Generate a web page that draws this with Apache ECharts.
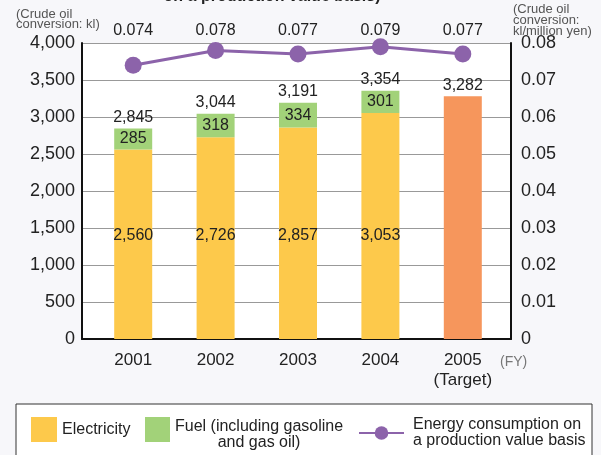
<!DOCTYPE html>
<html>
<head>
<meta charset="utf-8">
<script src="https://cdn.jsdelivr.net/npm/echarts@6/dist/echarts.min.js"></script>
<style>
  html, body { margin: 0; padding: 0; background: #f7f7fa; }
  #chart { width: 601px; height: 455px; }
</style>
</head>
<body>
<div id="chart"></div>
<script>
// Fiscal years (the last one is the target year)
const years = ['2001', '2002', '2003', '2004', '2005\n(Target)'];
// Energy consumption, crude oil conversion (kl)
const electricity = [2560, 2726, 2857, 3053, '-'];
const fuel = [285, 318, 334, 301, '-'];
const target = ['-', '-', '-', '-', 3282];
// Energy consumption on a production value basis (kl / million yen)
const intensity = [0.074, 0.078, 0.077, 0.079, 0.077];

// Stack totals shown above each bar
const totals = years.map((_, i) =>
  target[i] !== '-' ? target[i] : electricity[i] + fuel[i]);

const FONT = '"Liberation Sans", Arial, Helvetica, sans-serif';
const TXT = '#222';
const comma = v => Number(v).toLocaleString('en-US');

const frame = { left: 82, right: 90, top: 43, bottom: 116 };
const plot = { left: 92, right: 97, top: 43, bottom: 116 };

const chart = echarts.init(document.getElementById('chart'), null, { renderer: 'canvas' });

chart.setOption({
  backgroundColor: '#f7f7fa',
  textStyle: { fontFamily: FONT },
  animation: false,
  grid: [
    Object.assign({ show: true, backgroundColor: '#fff', borderWidth: 0 }, frame),
    Object.assign({}, plot)
  ],
  xAxis: [
    { // frame baseline
      gridIndex: 0, type: 'value', min: 0, max: 1,
      axisLine: { show: true, onZero: false, lineStyle: { color: '#111', width: 2 } },
      axisTick: { show: false }, axisLabel: { show: false }, splitLine: { show: false }
    },
    { // fiscal years
      gridIndex: 1, type: 'category', data: years,
      axisLine: { show: false }, axisTick: { show: false }, splitLine: { show: false },
      axisLabel: { fontSize: 17, color: TXT, margin: 11, lineHeight: 20, fontFamily: FONT }
    },
    { // intensity values above the plot
      gridIndex: 1, type: 'category', data: years, position: 'top',
      axisLine: { show: false }, axisTick: { show: false }, splitLine: { show: false },
      axisLabel: {
        fontSize: 16, color: TXT, margin: 4, fontFamily: FONT,
        formatter: (v, i) => intensity[i].toFixed(3)
      }
    }
  ],
  yAxis: [
    {
      gridIndex: 0, type: 'value', min: 0, max: 4000, interval: 500,
      axisLine: { show: true, lineStyle: { color: '#111', width: 2 } },
      axisTick: { show: false },
      axisLabel: { fontSize: 18, color: TXT, margin: 7, fontFamily: FONT, formatter: comma },
      splitLine: { show: true, lineStyle: { color: '#999', width: 1 } }
    },
    {
      gridIndex: 0, type: 'value', min: 0, max: 0.08, interval: 0.01, position: 'right',
      axisLine: { show: true, lineStyle: { color: '#111', width: 2 } },
      axisTick: { show: false },
      axisLabel: {
        fontSize: 18, color: TXT, margin: 10, fontFamily: FONT,
        formatter: v => (v === 0 ? '0' : v.toFixed(2))
      },
      splitLine: { show: false }
    },
    { gridIndex: 1, type: 'value', min: 0, max: 4000, show: false },
    { gridIndex: 1, type: 'value', min: 0, max: 0.08, show: false, position: 'right' }
  ],
  legend: [
    {
      data: ['Electricity'], left: 31, top: 417, itemWidth: 26, itemHeight: 25,
      icon: 'rect', selectedMode: false, padding: 0,
      textStyle: { fontSize: 16, color: TXT, fontFamily: FONT }
    },
    {
      data: ['Fuel (including gasoline and gas oil)'], left: 145, top: 417,
      itemWidth: 25, itemHeight: 25, icon: 'rect', selectedMode: false, padding: 0,
      formatter: () => '{c|Fuel (including gasoline}\n{c|and gas oil)}',
      textStyle: {
        fontSize: 16, color: TXT, fontFamily: FONT, padding: [10, 0, 0, 0],
        rich: { c: { fontSize: 16, color: TXT, fontFamily: FONT, align: 'center', lineHeight: 16 } }
      }
    },
    {
      data: ['Energy consumption on a production value basis'], left: 358, top: 417,
      itemWidth: 45, itemHeight: 17, selectedMode: false, padding: 0,
      formatter: () => 'Energy consumption on\na production value basis',
      textStyle: { fontSize: 16, color: TXT, fontFamily: FONT, lineHeight: 16, padding: [0, 0, 0, 4] }
    }
  ],
  graphic: [
    {
      type: 'rect', z: -1, silent: true,
      shape: { x: 16, y: 404, width: 576, height: 70 },
      style: { fill: '#fff', stroke: '#333', lineWidth: 1 }
    },
    {
      type: 'text', silent: true,
      style: {
        x: 272, y: 5, text: 'on a production value basis)', align: 'center', verticalAlign: 'bottom',
        font: 'bold 16px ' + FONT, fill: '#222'
      }
    },
    {
      type: 'text', silent: true,
      style: {
        x: 16, y: 9, text: '(Crude oil\nconversion: kl)', lineHeight: 10,
        font: '13px ' + FONT, fill: '#555', verticalAlign: 'top'
      }
    },
    {
      type: 'text', silent: true,
      style: {
        x: 513, y: 4, text: '(Crude oil\nconversion:\nkl/million yen)', lineHeight: 11,
        font: '13px ' + FONT, fill: '#555', verticalAlign: 'top'
      }
    },
    {
      type: 'text', silent: true,
      style: {
        x: 500, y: 362, text: '(FY)', verticalAlign: 'middle',
        font: '14px ' + FONT, fill: '#777'
      }
    }
  ],
  series: [
    {
      name: 'Electricity', type: 'bar', stack: 'use', xAxisIndex: 1, yAxisIndex: 2,
      barWidth: 38, data: electricity, itemStyle: { color: '#fdc94b' },
      label: {
        show: true, position: 'insideBottom', distance: 95,
        fontSize: 16, color: TXT, fontFamily: FONT, formatter: p => comma(p.value)
      }
    },
    {
      name: 'Fuel (including gasoline and gas oil)', type: 'bar', stack: 'use',
      xAxisIndex: 1, yAxisIndex: 2, barWidth: 38, data: fuel,
      itemStyle: { color: '#a2d279' },
      label: {
        show: true, position: 'inside', fontSize: 16, color: TXT, fontFamily: FONT,
        formatter: p => comma(p.value)
      }
    },
    {
      name: 'Target', type: 'bar', stack: 'use', xAxisIndex: 1, yAxisIndex: 2,
      barWidth: 38, data: target, itemStyle: { color: '#f6965c' }
    },
    {
      name: 'Total', type: 'scatter', xAxisIndex: 1, yAxisIndex: 2, data: totals,
      symbolSize: 0, silent: true, z: 5, itemStyle: { opacity: 1 },
      label: {
        show: true, position: 'top', distance: 3, fontSize: 16, color: TXT,
        fontFamily: FONT, formatter: p => comma(p.value)
      }
    },
    {
      name: 'Energy consumption on a production value basis', type: 'line',
      xAxisIndex: 1, yAxisIndex: 3, data: intensity, z: 6,
      symbol: 'circle', symbolSize: 17,
      itemStyle: { color: '#8c63aa' },
      lineStyle: { color: '#8c63aa', width: 3 }
    }
  ]
});
</script>
</body>
</html>
